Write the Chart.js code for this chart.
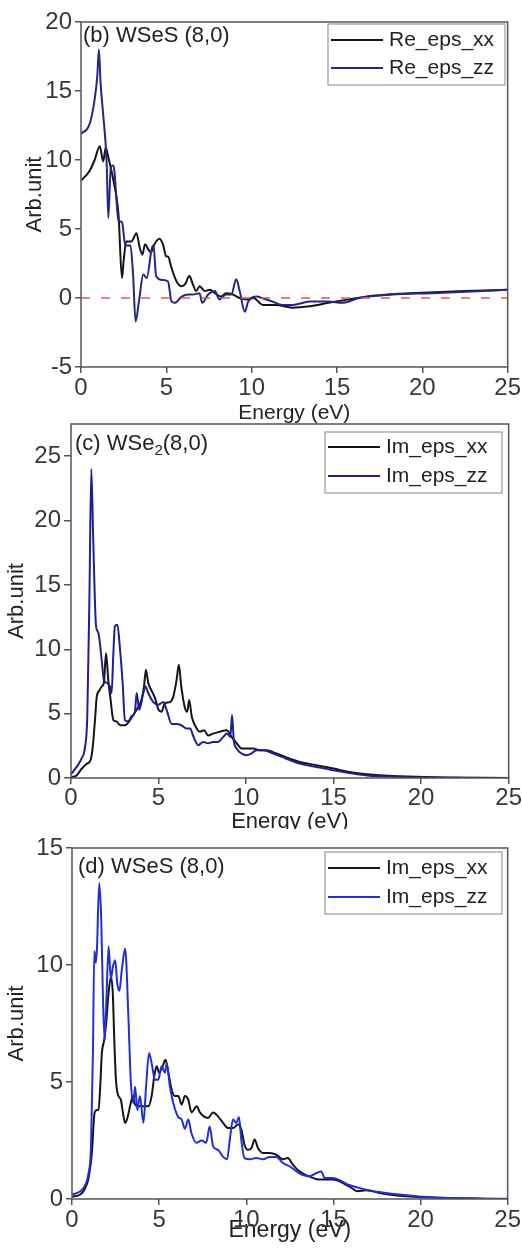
<html>
<head>
  <meta charset="UTF-8">
  <script src="https://cdn.jsdelivr.net/npm/chart.js@4.4.1/dist/chart.umd.min.js"></script>
  <style>
    body { margin: 0; background: #fff; width: 522px; height: 1252px; position: relative; overflow: hidden; }
    canvas { position: absolute; left: 0; }
  </style>
</head>
<body>
  <canvas id="chartB" width="522" height="430" style="top:0px"></canvas>
  <canvas id="chartC" width="522" height="445" style="top:395px"></canvas>
  <canvas id="chartD" width="522" height="423" style="top:829px"></canvas>
  <script>
    const FONT = '"Liberation Sans", Arial, Helvetica, sans-serif';

    // ---- (b) WSeS (8,0), real part ----
    const reXxE = [0, 0.5, 0.8, 1.1, 1.3, 1.45, 1.6, 1.9, 2.2, 2.4, 2.5, 2.65, 2.95, 3.25, 3.45, 3.6, 3.75, 3.95, 4.1, 4.3, 4.6, 4.8, 5.0, 5.1, 5.3, 5.6, 5.9, 6.1, 6.35, 6.55, 6.75, 6.95, 7.25, 7.55, 7.85, 8.2, 8.5, 8.9, 9.3, 9.7, 10.1, 10.65, 11.4, 12.4, 13.4, 14.5, 15.7, 16.7, 18.6, 20, 22.5, 25];
    const reXx  = [8.5, 9.2, 10.0, 11.0, 9.9, 10.9, 10.2, 8.5, 6.0, 1.45, 2.7, 4.1, 4.1, 4.7, 3.6, 3.15, 3.9, 3.5, 3.3, 3.9, 4.3, 3.9, 3.0, 3.0, 2.2, 1.2, 0.85, 1.0, 1.6, 1.0, 0.5, 0.85, 0.5, 0.6, 0.35, 0.1, 0.35, 0.25, 0.0, -0.1, 0.0, -0.5, -0.5, -0.7, -0.6, -0.35, -0.1, 0.1, 0.3, 0.38, 0.5, 0.6];
    const reZzE = [0, 0.5, 0.8, 0.95, 1.05, 1.15, 1.3, 1.5, 1.6, 1.75, 1.9, 2.2, 2.4, 2.6, 2.9, 3.05, 3.2, 3.4, 3.65, 3.85, 4.15, 4.25, 4.4, 4.8, 5.1, 5.3, 5.5, 5.9, 6.3, 6.55, 6.95, 7.1, 7.45, 7.85, 8.1, 8.5, 8.8, 9.1, 9.3, 9.6, 9.8, 10.3, 10.6, 11.2, 11.8, 12.4, 13.4, 14.5, 15.3, 16.3, 18.2, 20.6, 25];
    const reZz  = [11.9, 12.6, 14.4, 16.0, 18.0, 15.5, 13.3, 9.9, 5.8, 9.5, 9.6, 5.6, 5.5, 3.8, 3.8, 1.7, -1.7, -0.2, 1.7, 1.45, 3.6, 3.8, 1.6, 1.3, 1.2, -0.25, -0.35, 0.1, 0.25, 0.25, 0.35, -0.35, 0.25, 0.5, -0.1, 0.25, 0.25, 1.35, 0.5, -1.0, -0.25, 0.1, 0.0, -0.25, -0.5, -0.5, -0.25, -0.25, -0.35, 0.0, 0.25, 0.35, 0.6];
    const zeroE = [0, 25];
    const zeroV = [0, 0];

    // ---- (c) WSe2 (8,0), imaginary part ----
    const wse2XxE = [0, 0.32, 0.6, 0.9, 1.12, 1.24, 1.37, 1.47, 1.62, 1.75, 1.88, 2.0, 2.13, 2.26, 2.42, 2.6, 2.8, 3.08, 3.37, 3.56, 3.75, 4.03, 4.17, 4.28, 4.41, 4.6, 4.8, 5.0, 5.17, 5.36, 5.65, 5.84, 6.03, 6.16, 6.3, 6.5, 6.64, 6.75, 6.9, 7.08, 7.36, 7.6, 7.84, 8.12, 8.5, 8.9, 9.17, 9.46, 9.74, 10.03, 10.4, 10.8, 11.17, 11.74, 12.3, 13.07, 14.0, 15.0, 15.9, 16.9, 18.8, 20.7, 25];
    const wse2Xx  = [0.08, 0.2, 0.7, 1.1, 1.4, 2.4, 4.5, 6.3, 6.8, 7.1, 7.4, 9.7, 7.6, 6.1, 4.5, 4.4, 4.1, 4.1, 4.5, 4.9, 5.3, 6.1, 7.1, 8.4, 7.4, 6.8, 6.2, 5.3, 5.15, 5.8, 5.9, 6.3, 7.6, 8.8, 7.1, 5.5, 5.15, 6.05, 4.76, 4.1, 3.6, 3.7, 3.3, 3.45, 3.6, 3.7, 3.2, 2.7, 2.3, 2.3, 2.3, 2.15, 2.15, 1.9, 1.6, 1.25, 1.0, 0.73, 0.47, 0.29, 0.13, 0.05, 0];
    const wse2ZzE = [0, 0.32, 0.6, 0.8, 0.93, 1.05, 1.16, 1.27, 1.43, 1.56, 1.75, 1.88, 2.04, 2.23, 2.32, 2.42, 2.51, 2.65, 2.8, 2.95, 3.08, 3.27, 3.46, 3.65, 3.75, 3.9, 4.13, 4.26, 4.41, 4.7, 5.0, 5.27, 5.46, 5.75, 6.03, 6.3, 6.6, 6.8, 7.0, 7.27, 7.55, 7.84, 8.12, 8.4, 8.7, 8.9, 9.1, 9.2, 9.3, 9.46, 9.74, 10.03, 10.3, 10.6, 11.0, 11.55, 12.3, 13.07, 14.0, 14.97, 15.9, 16.9, 18.8, 20.7, 25];
    const wse2Zz  = [0.3, 0.86, 1.5, 2.4, 4.8, 13.9, 24.0, 18.5, 11.8, 11.3, 9.2, 7.6, 7.4, 7.1, 6.6, 9.7, 11.8, 11.9, 10.0, 7.4, 4.5, 4.4, 4.8, 5.15, 6.6, 5.3, 6.6, 7.1, 6.6, 5.9, 5.7, 5.9, 5.3, 4.2, 4.2, 4.1, 3.85, 3.85, 3.2, 2.55, 2.8, 2.7, 2.8, 2.8, 3.2, 3.45, 3.2, 4.9, 2.9, 2.3, 1.9, 1.77, 1.9, 2.15, 2.15, 1.9, 1.5, 1.12, 0.86, 0.6, 0.39, 0.2, 0.08, 0.03, 0];

    // ---- (d) WSeS (8,0), imaginary part ----
    const wsesXxE = [0, 0.48, 0.76, 0.95, 1.14, 1.3, 1.43, 1.52, 1.62, 1.71, 1.85, 1.96, 2.1, 2.23, 2.34, 2.44, 2.53, 2.67, 2.8, 2.92, 3.05, 3.18, 3.33, 3.49, 3.62, 3.81, 4.1, 4.38, 4.57, 4.72, 4.86, 5.0, 5.2, 5.37, 5.53, 5.72, 5.9, 6.1, 6.29, 6.48, 6.67, 6.86, 7.15, 7.34, 7.56, 7.8, 8.1, 8.38, 8.67, 8.96, 9.24, 9.53, 9.72, 9.9, 10.1, 10.3, 10.48, 10.67, 10.96, 11.34, 11.72, 12.1, 12.38, 12.67, 13.05, 13.6, 14.2, 14.96, 15.9, 16.4, 16.86, 17.8, 18.77, 20.7, 25];
    const wsesXx  = [0.1, 0.19, 0.47, 0.9, 1.97, 3.7, 3.8, 3.8, 4.8, 6.2, 6.8, 7.5, 8.8, 9.5, 8.8, 6.5, 5.0, 4.4, 4.25, 3.7, 3.25, 3.46, 3.96, 4.4, 4.03, 3.96, 3.96, 3.96, 4.4, 5.24, 5.67, 5.4, 5.67, 5.95, 5.4, 4.67, 4.4, 4.4, 4.03, 4.4, 4.25, 3.7, 3.96, 3.7, 3.53, 3.46, 3.7, 3.53, 3.25, 3.03, 3.03, 3.18, 2.96, 2.32, 2.1, 2.18, 2.54, 2.18, 1.97, 1.97, 1.9, 1.7, 1.75, 1.47, 1.18, 0.97, 0.83, 0.83, 0.54, 0.33, 0.37, 0.23, 0.14, 0.06, 0];
    const wsesZzE = [0, 0.48, 0.76, 0.95, 1.09, 1.2, 1.28, 1.37, 1.43, 1.56, 1.68, 1.77, 1.87, 1.96, 2.1, 2.23, 2.34, 2.48, 2.6, 2.72, 2.86, 3.05, 3.24, 3.37, 3.52, 3.62, 3.75, 3.9, 4.1, 4.25, 4.42, 4.57, 4.76, 4.95, 5.14, 5.34, 5.43, 5.62, 5.81, 6.1, 6.29, 6.48, 6.67, 6.86, 7.15, 7.43, 7.7, 7.9, 8.1, 8.38, 8.67, 8.9, 9.05, 9.24, 9.43, 9.58, 9.72, 9.9, 10.2, 10.58, 10.96, 11.34, 11.72, 12.1, 12.48, 13.05, 13.6, 14.0, 14.3, 14.5, 14.96, 15.9, 16.86, 17.8, 18.77, 19.9, 21.6, 25];
    const wsesZz  = [0.19, 0.33, 0.6, 1.1, 2.25, 6.2, 10.6, 10.1, 10.65, 13.5, 11.9, 8.8, 6.8, 8.2, 10.8, 9.4, 9.9, 10.2, 9.2, 8.9, 9.8, 10.7, 7.7, 5.1, 4.1, 4.8, 3.8, 4.4, 3.25, 4.8, 6.24, 5.8, 5.1, 5.1, 5.67, 5.4, 5.8, 4.8, 4.1, 3.5, 3.4, 3.0, 3.4, 2.8, 2.4, 2.5, 2.4, 3.1, 2.25, 2.1, 1.8, 1.7, 2.5, 3.4, 3.25, 3.5, 2.5, 1.75, 1.7, 1.75, 1.7, 1.8, 1.8, 1.54, 1.4, 1.1, 0.97, 1.1, 1.18, 0.9, 0.9, 0.6, 0.4, 0.28, 0.19, 0.11, 0.04, 0.01];

    // tick labels
    const xTicks = [0, 5, 10, 15, 20, 25];
    const yTicksB = [-5, 0, 5, 10, 15, 20];
    const yTicksC = [0, 5, 10, 15, 20, 25];
    const yTicksD = [0, 5, 10, 15];

    function pts(xs, ys) {
      return xs.map((x, i) => ({ x: x, y: ys[i] }));
    }

    // frame, panel label and legend box drawn inside the plot area
    const panelDecor = {
      id: 'panelDecor',
      beforeDraw(chart, args, o) {
        if (o.whiteBg) {
          const c = chart.ctx;
          c.save();
          c.fillStyle = '#fff';
          c.fillRect(0, 0, chart.width, chart.height);
          c.restore();
        }
      },
      afterDraw(chart, args, o) {
        const c = chart.ctx, a = chart.chartArea;
        c.save();
        c.strokeStyle = '#555';
        c.lineWidth = 1.5;
        c.strokeRect(a.left, a.top, a.right - a.left, a.bottom - a.top);

        c.fillStyle = '#222';
        c.textBaseline = 'middle';
        c.textAlign = 'left';
        let x = o.labelX;
        o.label.forEach(p => {
          c.font = (p.size || 22) + 'px ' + FONT;
          c.fillText(p.text, x, o.labelY + (p.dy || 0));
          x += c.measureText(p.text).width;
        });

        const L = o.legend;
        c.fillStyle = '#fff';
        c.fillRect(L.x1, L.y1, L.x2 - L.x1, L.y2 - L.y1);
        c.strokeStyle = '#999';
        c.lineWidth = 1.2;
        c.strokeRect(L.x1, L.y1, L.x2 - L.x1, L.y2 - L.y1);
        c.font = '21px ' + FONT;
        L.items.forEach((it, i) => {
          const y = L.rowY[i];
          c.strokeStyle = it.color;
          c.lineWidth = 2;
          c.beginPath();
          c.moveTo(L.x1 + 3, y);
          c.lineTo(L.x1 + 55, y);
          c.stroke();
          c.fillStyle = '#222';
          c.fillText(it.text, L.x1 + 61, y);
        });
        c.restore();
      }
    };

    function makePanel(id, p) {
      const ctx = document.getElementById(id).getContext('2d');
      const tickFont = { family: FONT, size: 24 };
      return new Chart(ctx, {
        type: 'line',
        data: { datasets: p.datasets },
        plugins: [panelDecor],
        options: {
          responsive: false,
          animation: false,
          layout: { padding: { top: p.top, right: 522 - p.right, left: 0, bottom: 0 } },
          elements: { point: { radius: 0 }, line: { cubicInterpolationMode: 'monotone', borderWidth: 2 } },
          plugins: {
            legend: { display: false },
            tooltip: { enabled: false },
            panelDecor: p.decor
          },
          scales: {
            x: {
              type: 'linear', min: 0, max: 25,
              afterBuildTicks: s => { s.ticks = xTicks.map(v => ({ value: v })); },
              ticks: { font: tickFont, color: '#383838', padding: p.xPad, maxRotation: 0, autoSkip: false },
              grid: { drawOnChartArea: false, drawTicks: true, tickLength: 6, color: '#555', lineWidth: 1.5 },
              border: { display: false },
              title: { display: true, text: 'Energy (eV)', color: '#222',
                       font: { family: FONT, size: p.xTitleSize }, padding: { top: 0, bottom: p.xTitlePad } },
              afterFit: s => { s.height = p.xh; }
            },
            y: {
              type: 'linear', min: p.yMin, max: p.yMax,
              afterBuildTicks: s => { s.ticks = p.yTicks.map(v => ({ value: v })); },
              ticks: { font: tickFont, color: '#383838', padding: 3, autoSkip: false },
              grid: { drawOnChartArea: false, drawTicks: true, tickLength: p.yTick, color: '#555', lineWidth: 1.5 },
              border: { display: false },
              title: { display: true, text: 'Arb.unit', color: '#222',
                       font: { family: FONT, size: 22 }, padding: { top: p.yTitlePad, bottom: 0 } },
              afterFit: s => { s.width = p.left; }
            }
          }
        }
      });
    }

    const BLACK = '#151515';

    makePanel('chartB', {
      left: 81, right: 509, top: 22, xh: 63,
      yMin: -5, yMax: 20, yTicks: yTicksB, yTick: 6, yTitlePad: 22,
      xPad: 1, xTitleSize: 21, xTitlePad: 4,
      datasets: [
        { data: pts(zeroE, zeroV), borderColor: '#d95a55', borderWidth: 1.5, borderDash: [9, 11] },
        { data: pts(reZzE, reZz), borderColor: '#25258a' },
        { data: pts(reXxE, reXx), borderColor: BLACK }
      ],
      decor: {
        labelX: 83, labelY: 36,
        label: [{ text: '(b) WSeS (8,0)' }],
        legend: { x1: 328, y1: 24, x2: 505, y2: 85, rowY: [40, 68],
                  items: [{ text: 'Re_eps_xx', color: BLACK }, { text: 'Re_eps_zz', color: '#25258a' }] }
      }
    });

    makePanel('chartC', {
      left: 71, right: 509, top: 29, xh: 62,
      yMin: 0, yMax: 27.5, yTicks: yTicksC, yTick: 7, yTitlePad: 4,
      xPad: 0, xTitleSize: 22, xTitlePad: 5,
      datasets: [
        { data: pts(wse2ZzE, wse2Zz), borderColor: '#1f1f95' },
        { data: pts(wse2XxE, wse2Xx), borderColor: BLACK }
      ],
      decor: {
        labelX: 75, labelY: 49,
        label: [{ text: '(c) WSe' }, { text: '2', size: 15, dy: 7 }, { text: '(8,0)' }],
        legend: { x1: 325, y1: 37, x2: 502, y2: 98, rowY: [52, 81],
                  items: [{ text: 'Im_eps_xx', color: BLACK }, { text: 'Im_eps_zz', color: '#1f1f95' }] }
      }
    });

    makePanel('chartD', {
      left: 72, right: 509, top: 19, xh: 53,
      yMin: 0, yMax: 15, yTicks: yTicksD, yTick: 6, yTitlePad: 4,
      xPad: 1, xTitleSize: 23, xTitlePad: 8,
      datasets: [
        { data: pts(wsesZzE, wsesZz), borderColor: '#2030d8' },
        { data: pts(wsesXxE, wsesXx), borderColor: BLACK }
      ],
      decor: {
        whiteBg: true,
        labelX: 78, labelY: 38,
        label: [{ text: '(d) WSeS (8,0)' }],
        legend: { x1: 325, y1: 23, x2: 502, y2: 85, rowY: [39, 68],
                  items: [{ text: 'Im_eps_xx', color: BLACK }, { text: 'Im_eps_zz', color: '#2030d8' }] }
      }
    });
  </script>
</body>
</html>
